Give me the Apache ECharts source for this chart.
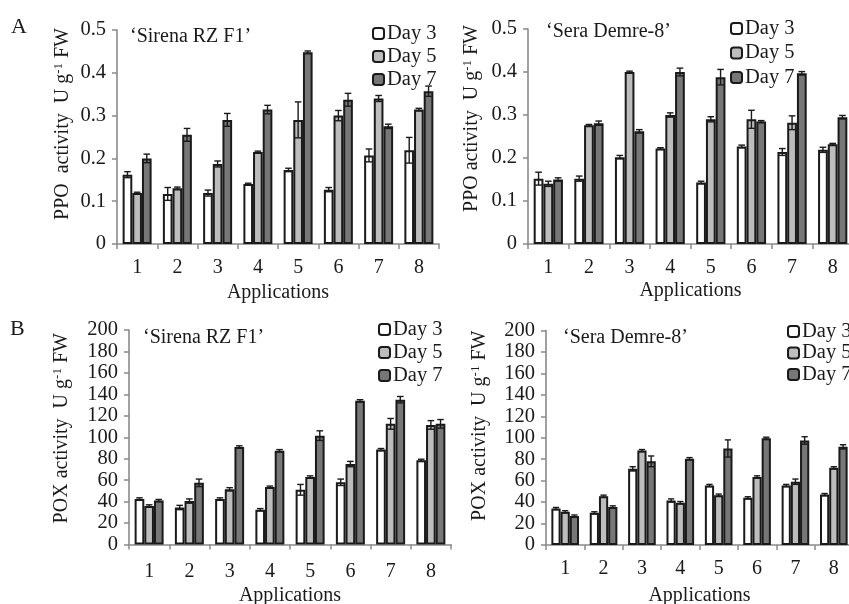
<!DOCTYPE html>
<html><head><meta charset="utf-8">
<script src="https://cdn.jsdelivr.net/npm/echarts@6/dist/echarts.min.js"></script>
<style>html,body{margin:0;padding:0;background:#fff}#c{width:849px;height:604px}</style>
</head><body><div id="c"></div><script>
const categories = ['1','2','3','4','5','6','7','8'];
const dayNames = ['Day 3','Day 5','Day 7'];
const ppoTicks = [0, 0.1, 0.2, 0.3, 0.4, 0.5];
const poxTicks = [0, 20, 40, 60, 80, 100, 120, 140, 160, 180, 200];

// PPO – 'Sirena RZ F1'
const ppoSirenaDay3 = [0.162,0.117,0.119,0.140,0.173,0.127,0.207,0.219];
const ppoSirenaDay5 = [0.119,0.130,0.187,0.215,0.290,0.300,0.340,0.314];
const ppoSirenaDay7 = [0.200,0.255,0.290,0.314,0.448,0.337,0.275,0.357];
const ppoSirenaErr3 = [0.007,0.015,0.007,0.002,0.004,0.005,0.015,0.030];
const ppoSirenaErr5 = [0.002,0.003,0.007,0.002,0.042,0.012,0.007,0.003];
const ppoSirenaErr7 = [0.010,0.015,0.015,0.010,0.003,0.015,0.005,0.012];

// PPO – 'Sera Demre-8'
const ppoSeraDay3 = [0.152,0.152,0.202,0.222,0.143,0.227,0.214,0.219];
const ppoSeraDay5 = [0.140,0.276,0.400,0.300,0.290,0.290,0.282,0.232];
const ppoSeraDay7 = [0.150,0.281,0.262,0.400,0.388,0.285,0.397,0.295];
const ppoSeraErr3 = [0.015,0.006,0.004,0.002,0.003,0.003,0.008,0.006];
const ppoSeraErr5 = [0.006,0.002,0.002,0.005,0.006,0.021,0.016,0.002];
const ppoSeraErr7 = [0.004,0.005,0.004,0.009,0.018,0.002,0.004,0.004];

// POX – 'Sirena RZ F1'
const poxSirenaDay3 = [42.5,34.5,42.5,32.5,51,58,88.5,78.5];
const poxSirenaDay5 = [36,40.5,51.5,53.5,63,75,112.5,111.5];
const poxSirenaDay7 = [41,57.5,91,87.5,101.5,134,135,112.5];
const poxSirenaErr3 = [1,2,1,1,5,3,1,1];
const poxSirenaErr5 = [1,2,1.5,1,1,2.5,5,4];
const poxSirenaErr7 = [1,3.5,1,1,4.5,1,3,4];

// POX – 'Sera Demre-8'
const poxSeraDay3 = [34,30,71,41.5,55.5,44,55.5,47];
const poxSeraDay5 = [31,45.5,88,39.5,46.5,63.5,59,72];
const poxSeraDay7 = [27,35.5,78,80.5,90,99.5,97.5,91.5];
const poxSeraErr3 = [1,1,2,1.5,1,1,1,1];
const poxSeraErr5 = [1,1,1,1,1,1,2.5,1];
const poxSeraErr7 = [1,1,5,1,8,1,3.5,2];

const FONT = '"Liberation Serif","Times New Roman",serif';
const TXT = '#1a1a1a';
const AXC = '#8a8a8a';
const fills = ['#ffffff', '#bdbdbd', '#777777'];
const GAP = 0.28;

const panels = [
  {grid:{left:117, top:30, width:322, height:214}, ticks:ppoTicks, yname:'PPO  activity  U g{s|-1} FW', title:'\u2018Sirena RZ F1\u2019',
   titlePos:[130,27], legendPos:[372,23,2], nameGap:44, namePad:26, xMargin:14, xNameGap:39,
   vals:[ppoSirenaDay3,ppoSirenaDay5,ppoSirenaDay7], errs:[ppoSirenaErr3,ppoSirenaErr5,ppoSirenaErr7]},
  {grid:{left:528, top:29, width:325, height:215}, ticks:ppoTicks, yname:'PPO activity  U g{s|-1} FW', title:'\u2018Sera Demre-8\u2019',
   titlePos:[546,22], legendPos:[730,18,3.5], nameGap:46, namePad:36, xMargin:14, xNameGap:37,
   vals:[ppoSeraDay3,ppoSeraDay5,ppoSeraDay7], errs:[ppoSeraErr3,ppoSeraErr5,ppoSeraErr7]},
  {grid:{left:129, top:330, width:322, height:214.5}, ticks:poxTicks, yname:'POX activity  U g{s|-1} FW', title:'\u2018Sirena RZ F1\u2019',
   titlePos:[143,328], legendPos:[378,319,2], nameGap:57, namePad:18, xMargin:17, xNameGap:41,
   vals:[poxSirenaDay3,poxSirenaDay5,poxSirenaDay7], errs:[poxSirenaErr3,poxSirenaErr5,poxSirenaErr7]},
  {grid:{left:546, top:330.5, width:307, height:214.5}, ticks:poxTicks, yname:'POX activity  U g{s|-1} FW', title:'\u2018Sera Demre-8\u2019',
   titlePos:[563,328], legendPos:[787,321,0.5], nameGap:56, namePad:24, xMargin:14, xNameGap:41,
   vals:[poxSeraDay3,poxSeraDay5,poxSeraDay7], errs:[poxSeraErr3,poxSeraErr5,poxSeraErr7]}
];

function errRenderer(k) {
  return function (params, api) {
    const x = api.value(0), v = api.value(1), e = api.value(2);
    const hi = api.coord([x, v + e]);
    const lo = api.coord([x, v - e]);
    const band = api.size([1, 0])[0];
    const bw = band * (1 - GAP) / 3;
    const cx = hi[0] + (k - 1) * bw;
    const cap = bw * 0.34;
    const st = {stroke: '#1a1a1a', lineWidth: 1.4};
    return {type: 'group', children: [
      {type:'line', shape:{x1:cx, y1:hi[1], x2:cx, y2:lo[1]}, style:st},
      {type:'line', shape:{x1:cx-cap, y1:hi[1], x2:cx+cap, y2:hi[1]}, style:st},
      {type:'line', shape:{x1:cx-cap, y1:lo[1], x2:cx+cap, y2:lo[1]}, style:st}
    ]};
  };
}

const grid = [], xAxis = [], yAxis = [], series = [], legend = [], title = [];
panels.forEach((p, i) => {
  grid.push(Object.assign({containLabel:false, outerBoundsMode:'none'}, p.grid));
  xAxis.push({
    type:'category', gridIndex:i, data:categories,
    name:'Applications', nameLocation:'middle', nameGap:p.xNameGap,
    nameTextStyle:{fontFamily:FONT, fontSize:20, color:TXT},
    axisLine:{lineStyle:{color:AXC, width:1.6}},
    axisTick:{show:true, length:5, lineStyle:{color:AXC, width:1.5}},
    axisLabel:{fontFamily:FONT, fontSize:20, color:TXT, margin:p.xMargin}
  });
  const tk = p.ticks;
  yAxis.push({
    type:'value', gridIndex:i, min:tk[0], max:tk[tk.length-1], interval:tk[1]-tk[0],
    name:p.yname, nameLocation:'middle', nameGap:p.nameGap, nameRotate:90,
    nameTextStyle:{fontFamily:FONT, fontSize:20, color:TXT, padding:[0,0,0,p.namePad],
      rich:{s:{fontFamily:FONT, fontSize:13, color:TXT, verticalAlign:'top', padding:[0,0,8,0]}}},
    splitLine:{show:false},
    axisLine:{show:true, lineStyle:{color:AXC, width:1.6}},
    axisTick:{show:true, length:5, lineStyle:{color:AXC, width:1.5}},
    axisLabel:{fontFamily:FONT, fontSize:20.5, color:TXT, margin:11}
  });
  for (let k = 0; k < 3; k++) {
    series.push({
      type:'bar', name:dayNames[k], xAxisIndex:i, yAxisIndex:i,
      data:p.vals[k], barGap:'0%', barCategoryGap:(GAP*100)+'%',
      itemStyle:{color:fills[k], borderColor:'#1a1a1a', borderWidth:2},
      emphasis:{disabled:true}, animation:false
    });
  }
  for (let k = 0; k < 3; k++) {
    series.push({
      type:'custom', name:'err'+i+k, xAxisIndex:i, yAxisIndex:i,
      data:p.vals[k].map((v, j) => [j, v, p.errs[k][j]]),
      renderItem:errRenderer(k), z:5, animation:false, silent:true
    });
  }
  legend.push({
    orient:'vertical', left:p.legendPos[0], top:p.legendPos[1], itemGap:p.legendPos[2],
    padding:0, itemWidth:11, itemHeight:11, icon:'roundRect', data:dayNames,
    textStyle:{fontFamily:FONT, fontSize:20.5, color:TXT, lineHeight:20, padding:[0,0,0,-2]}, selectedMode:false
  });
  title.push({text:p.title, left:p.titlePos[0], top:p.titlePos[1], padding:0,
    textStyle:{fontFamily:FONT, fontSize:20, fontWeight:'normal', color:TXT}});
});
title.push({text:'A', left:11, top:16, padding:0, textStyle:{fontFamily:FONT, fontSize:22, fontWeight:'normal', color:TXT}});
title.push({text:'B', left:10, top:318, padding:0, textStyle:{fontFamily:FONT, fontSize:22, fontWeight:'normal', color:TXT}});

const chart = echarts.init(document.getElementById('c'), null, {renderer:'canvas'});
chart.setOption({animation:false, backgroundColor:'#ffffff', title, grid, xAxis, yAxis, series, legend});
</script></body></html>
